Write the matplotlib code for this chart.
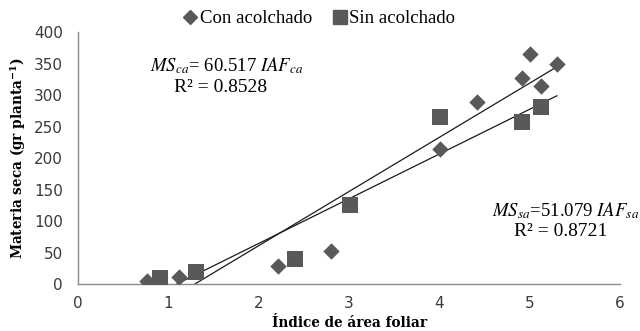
import numpy as np
import matplotlib
matplotlib.use("Agg")
import matplotlib.pyplot as plt
from matplotlib.lines import Line2D

# Data
ca_x = [0.76, 1.12, 2.21, 2.80, 4.01, 4.41, 4.91, 5.00, 5.12, 5.30]
ca_y = [5, 11, 29, 52, 214, 289, 327, 365, 314, 349]
sa_x = [0.91, 1.31, 2.40, 3.01, 4.01, 4.91, 5.12]
sa_y = [9, 19, 40, 125, 265, 257, 281]
x_ticks = [0, 1, 2, 3, 4, 5, 6]
y_ticks = [0, 50, 100, 150, 200, 250, 300, 350, 400]
trend_x_end = 5.3

plt.rcParams['mathtext.fontset'] = 'stix'

fig = plt.figure(figsize=(6.4, 3.31), dpi=100)
ax = fig.add_axes([0.122, 0.142, 0.847, 0.761])

mcol = '#595959'
ax.scatter(ca_x, ca_y, marker='D', s=70, color=mcol, zorder=3, linewidths=0)
ax.scatter(sa_x, sa_y, marker='s', s=130, color=mcol, zorder=3, linewidths=0)

for xs, ys in [(ca_x, ca_y), (sa_x, sa_y)]:
    m, b = np.polyfit(xs, ys, 1)
    xx = np.array([min(xs), trend_x_end])
    ax.plot(xx, m * xx + b, color='#1a1a1a', lw=0.9, zorder=2)

ax.set_xlim(0, 6)
ax.set_ylim(0, 400)
ax.set_xticks(x_ticks)
ax.set_yticks(y_ticks)
ax.tick_params(length=0, labelsize=11, colors='#3a3a3a')
ax.tick_params(axis='y', pad=11)
ax.tick_params(axis='x', pad=9)
for lab in ax.get_xticklabels() + ax.get_yticklabels():
    lab.set_family('DejaVu Sans')
for s in ['top', 'right']:
    ax.spines[s].set_visible(False)
for s in ['left', 'bottom']:
    ax.spines[s].set_color('#8c8c8c')
    ax.spines[s].set_linewidth(1)

ax.set_xlabel('Índice de área foliar', family='DejaVu Serif', fontweight='bold', fontsize=9.8, labelpad=3)
ax.set_ylabel('Materia seca (gr planta$^{\\mathregular{-1}}$)', family='DejaVu Serif', fontweight='bold', fontsize=9.8, labelpad=4)

# Legend
handles = [Line2D([], [], marker='D', color=mcol, ls='none', markersize=7),
           Line2D([], [], marker='s', color=mcol, ls='none', markersize=10)]
fig.legend(handles, ['Con acolchado', 'Sin acolchado'], loc='center', bbox_to_anchor=(0.497, 0.943),
           ncol=2, frameon=False, prop={'family': 'Liberation Serif', 'size': 13.5},
           handletextpad=0.0, columnspacing=1.0, handlelength=1.0)

# Annotations
ax.text(1.65, 346, r'$\mathit{MS}_{\mathit{ca}}$= 60.517 $\mathit{IAF}_{\mathit{ca}}$', fontsize=13.5,
        ha='center', va='center', family='Liberation Serif')
ax.text(1.58, 312, 'R² = 0.8528', fontsize=14, ha='center', va='center', family='Liberation Serif')
ax.text(5.40, 116, r'$\mathit{MS}_{\mathit{sa}}$=51.079 $\mathit{IAF}_{\mathit{sa}}$', fontsize=13.5,
        ha='center', va='center', family='Liberation Serif')
ax.text(5.34, 84, 'R² = 0.8721', fontsize=14, ha='center', va='center', family='Liberation Serif')

fig.savefig('out.png', dpi=100)
